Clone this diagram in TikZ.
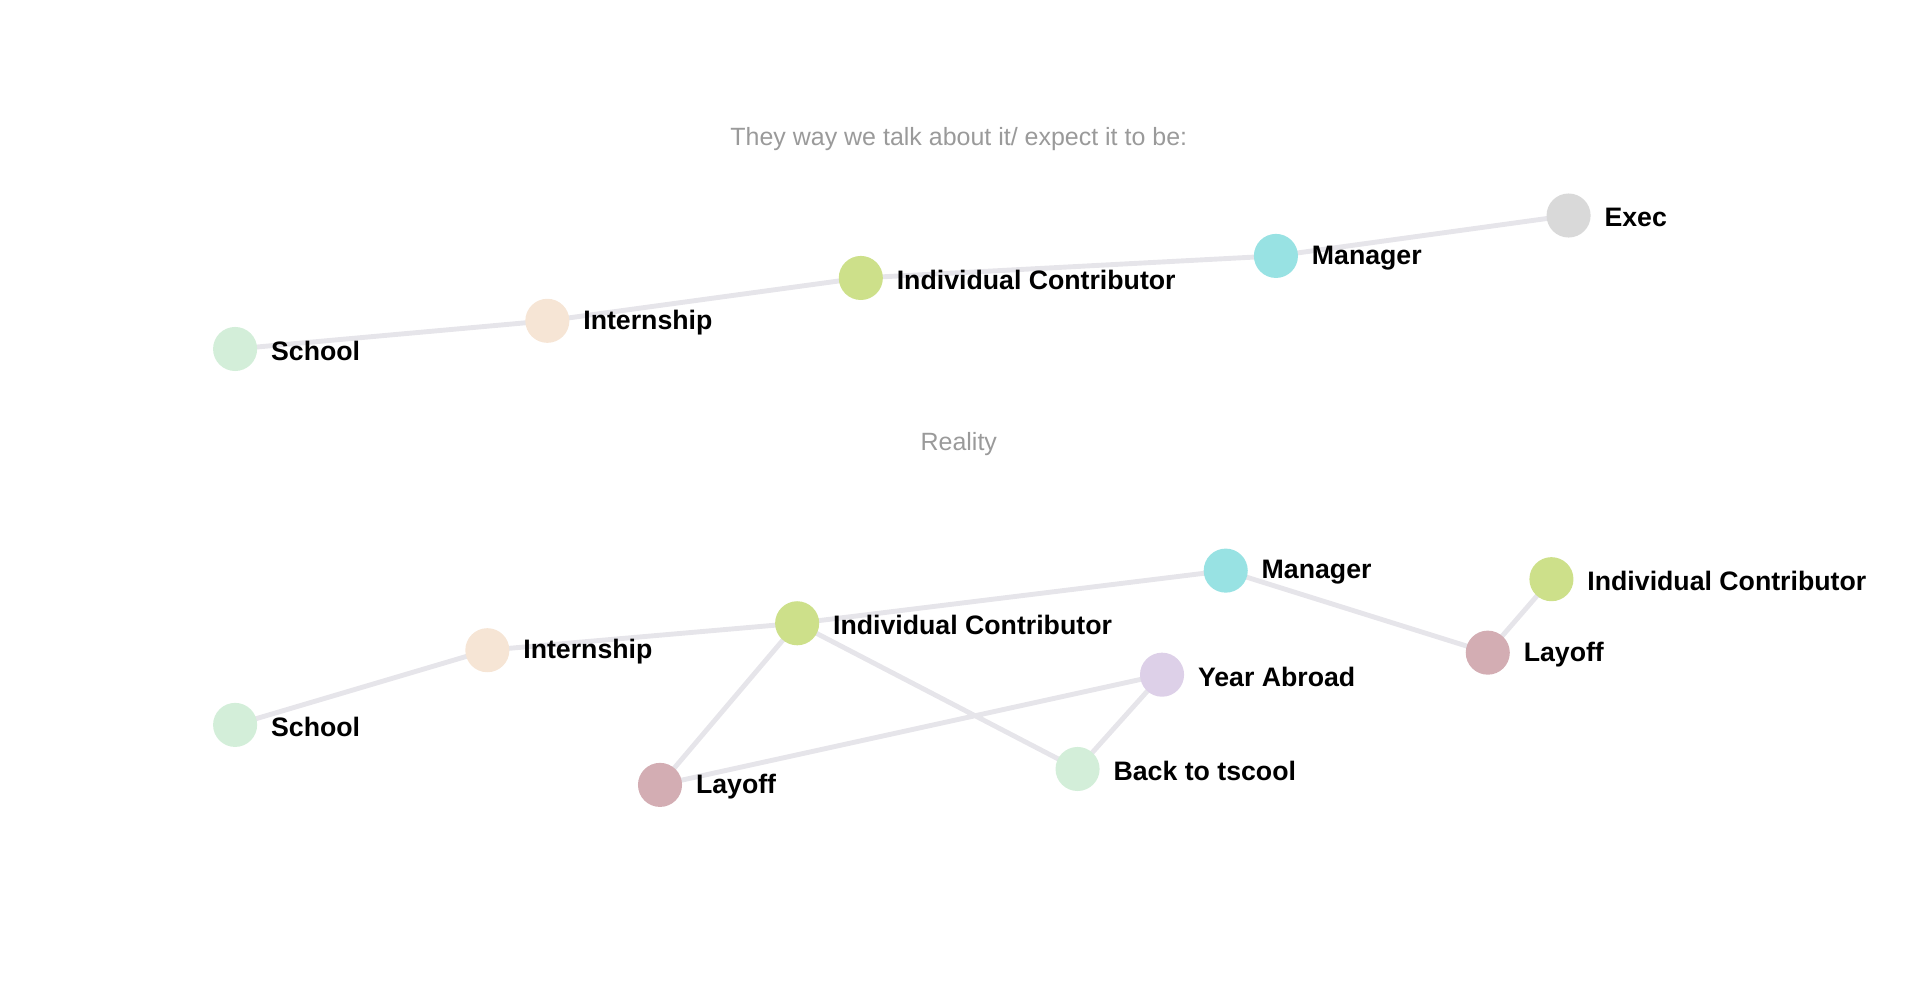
\documentclass[tikz,border=0pt]{standalone}
\usepackage{fontspec}
\setmainfont{Liberation Sans}
\usetikzlibrary{backgrounds}
\definecolor{cSchool}{HTML}{D3EED9}
\definecolor{cIntern}{HTML}{F6E5D5}
\definecolor{cIC}{HTML}{CDE08A}
\definecolor{cMgr}{HTML}{98E2E3}
\definecolor{cExec}{HTML}{D9D9D9}
\definecolor{cLay}{HTML}{D3ADB3}
\definecolor{cYear}{HTML}{DDD0E8}
\definecolor{cEdge}{HTML}{E6E5EA}
\definecolor{cHead}{HTML}{9A9A9A}
\tikzset{
  pt/.style={circle, fill=#1, minimum size=36pt, inner sep=0pt},
  lbl/.style={font=\fontsize{21.8}{24}\selectfont\bfseries, text=black, inner sep=0pt, anchor=west},
  link/.style={draw=cEdge, line width=4pt},
  head/.style={font=\fontsize{20.4}{23}\selectfont, text=cHead, inner sep=0pt},
}
\begin{document}
\begin{tikzpicture}[x=1pt,y=-1pt]
\useasboundingbox (0,0) rectangle (1568,808);
% headings
\node[head] (h1) at (783,113.5) {They way we talk about it/ expect it to be:};
\node[head] (h2) at (783,362.5) {Reality};
% top nodes
\node[pt=cSchool] (tS) at (192,285) {};
\node[pt=cIntern] (tI) at (447,262) {};
\node[pt=cIC] (tC) at (703,227) {};
\node[pt=cMgr] (tM) at (1042,209) {};
\node[pt=cExec] (tE) at (1281,176) {};
% bottom nodes
\node[pt=cSchool] (bS) at (192,592) {};
\node[pt=cIntern] (bI) at (398,531) {};
\node[pt=cIC] (bC) at (651,509) {};
\node[pt=cMgr] (bM) at (1001,466) {};
\node[pt=cLay] (bL2) at (1215,533) {};
\node[pt=cIC] (bC2) at (1267,473) {};
\node[pt=cLay] (bL) at (539,641) {};
\node[pt=cYear] (bY) at (949,551) {};
\node[pt=cSchool] (bB) at (880,628) {};
% edges
\begin{scope}[on background layer]
\path[link] (tS.center) -- (tI.center) (tI.center) -- (tC.center) (tC.center) -- (tM.center) (tM.center) -- (tE.center);
\path[link] (bS.center) -- (bI.center) (bI.center) -- (bC.center) (bC.center) -- (bM.center)
  (bM.center) -- (bL2.center) (bL2.center) -- (bC2.center)
  (bC.center) -- (bL.center) (bC.center) -- (bB.center) (bL.center) -- (bY.center) (bY.center) -- (bB.center);
\end{scope}
% labels
\tikzset{lblat/.style={xshift=11pt,yshift=-1.5pt}}
\node[lbl] (ltS) at ([lblat]tS.east) {School};
\node[lbl] (ltI) at ([lblat]tI.east) {Internship};
\node[lbl] (ltC) at ([lblat]tC.east) {Individual Contributor};
\node[lbl] (ltM) at ([lblat]tM.east) {Manager};
\node[lbl] (ltE) at ([lblat]tE.east) {Exec};
\node[lbl] (lbS) at ([lblat]bS.east) {School};
\node[lbl] (lbI) at ([lblat]bI.east) {Internship};
\node[lbl] (lbC) at ([lblat]bC.east) {Individual Contributor};
\node[lbl] (lbM) at ([lblat]bM.east) {Manager};
\node[lbl] (lbL2) at ([lblat]bL2.east) {Layoff};
\node[lbl] (lbC2) at ([lblat]bC2.east) {Individual Contributor};
\node[lbl] (lbL) at ([lblat]bL.east) {Layoff};
\node[lbl] (lbY) at ([lblat]bY.east) {Year Abroad};
\node[lbl] (lbB) at ([lblat]bB.east) {Back to tscool};
\end{tikzpicture}
\end{document}
